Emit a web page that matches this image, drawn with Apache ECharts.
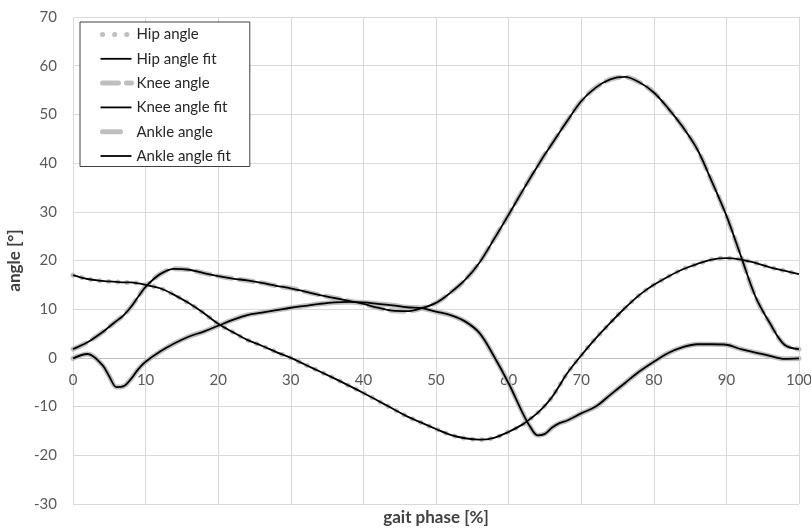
<!DOCTYPE html>
<html>
<head>
<meta charset="utf-8">
<script src="https://cdn.jsdelivr.net/npm/echarts@6/dist/echarts.min.js"></script>
<style>
  html, body { margin: 0; padding: 0; background: #fff; }
  #chart { width: 811px; height: 528px; }
</style>
</head>
<body>
<div id="chart"></div>
<script>
// Gait phase (% of gait cycle) at which the joint angles are sampled
const phase = [0, 2, 4, 5, 6, 7, 8, 9, 10, 12, 14, 16, 18, 20, 22, 24, 26, 28, 30, 32, 34, 36, 38, 40,
  42, 44, 46, 48, 50, 52, 54, 56, 58, 60, 62, 63, 64, 65, 66, 67, 68, 70, 72, 74, 76, 78, 80,
  82, 84, 86, 88, 90, 92, 94, 96, 98, 100];

// Joint angles in degrees
const hipAngle = [17.0, 16.2, 15.8, 15.7, 15.6, 15.5, 15.5, 15.3, 15.0, 14.3, 12.9, 11.2, 9.2, 7.0, 5.3, 3.7,
  2.5, 1.2, 0.0, -1.4, -2.8, -4.2, -5.7, -7.2, -8.8, -10.4, -12.0, -13.3, -14.6, -15.8, -16.5, -16.8,
  -16.4, -15.2, -13.6, -12.5, -11.3, -9.8, -8.0, -5.7, -3.3, 0.5, 4.0, 7.2, 10.2, 12.9, 15.0,
  16.7, 18.2, 19.3, 20.2, 20.5, 20.2, 19.5, 18.6, 17.9, 17.2];

const kneeAngle = [1.8, 3.2, 5.2, 6.4, 7.6, 8.8, 10.5, 12.6, 14.6, 17.2, 18.3, 18.1, 17.4, 16.8, 16.3, 15.9,
  15.4, 14.8, 14.3, 13.6, 12.9, 12.3, 11.7, 11.1, 10.3, 9.7, 9.6, 10.2, 11.3, 13.4, 16.0, 19.6,
  24.4, 29.4, 34.5, 37.0, 39.4, 41.8, 44.0, 46.3, 48.5, 52.7, 55.5, 57.2, 57.7, 56.6, 54.5,
  51.2, 47.4, 42.8, 36.2, 29.2, 20.9, 12.6, 7.1, 2.7, 1.8];

const ankleAngle = [-0.1, 0.8, -1.4, -3.8, -6.0, -5.8, -4.3, -2.3, -0.8, 1.3, 3.0, 4.4, 5.4, 6.6, 7.8, 8.8,
  9.3, 9.8, 10.3, 10.7, 11.1, 11.4, 11.5, 11.4, 11.1, 10.8, 10.4, 10.2, 9.5, 8.8, 7.5, 5.1,
  0.3, -5.2, -11.5, -14.2, -15.9, -15.6, -14.3, -13.4, -12.9, -11.4, -10.0, -7.6, -5.2, -2.8, -0.8,
  1.0, 2.2, 2.8, 2.8, 2.7, 1.8, 1.1, 0.4, -0.2, -0.1];

const xTicks = { min: 0, max: 100, step: 10 };
const yTicks = { min: -30, max: 70, step: 10 };

const pairs = (ys) => phase.map((x, i) => [x, ys[i]]);

const FONT = 'Lato, "Open Sans", sans-serif';
const GRAY = '#bfbfbf';

// plot box (pixels)
const GRID = { left: 73, right: 12, top: 17, bottom: 24 };
const plotHeight = 528 - GRID.top - GRID.bottom;
// lift the x axis from the bottom edge up to the y = 0 line
const xAxisLift = plotHeight * (0 - yTicks.min) / (yTicks.max - yTicks.min);

function measured(name, ys, dash) {
  return {
    name, type: 'line', data: pairs(ys), symbol: 'none', smooth: 0.35, z: 2,
    lineStyle: { color: GRAY, width: 5, type: dash, cap: 'round', join: 'round' },
    itemStyle: { color: GRAY },
    emphasis: { disabled: true }
  };
}
function fitted(name, ys) {
  return {
    name, type: 'line', data: pairs(ys), symbol: 'none', smooth: 0.35, z: 3,
    lineStyle: { color: '#000', width: 1.8 },
    itemStyle: { color: '#000' },
    emphasis: { disabled: true }
  };
}

const fitKey = { lineStyle: { color: '#000', width: 1.8, type: 'solid' } };

const chart = echarts.init(document.getElementById('chart'), null, { renderer: 'canvas' });
chart.setOption({
  animation: false,
  backgroundColor: '#fff',
  grid: Object.assign({ containLabel: false, outerBoundsMode: 'none' }, GRID),
  xAxis: {
    type: 'value', min: xTicks.min, max: xTicks.max, interval: xTicks.step,
    position: 'bottom', offset: -xAxisLift,
    name: 'gait phase [%]', nameLocation: 'middle', nameGap: 151,
    nameTextStyle: { fontFamily: FONT, fontSize: 17, fontWeight: 'bold', color: '#404040' },
    axisLine: { onZero: false, lineStyle: { color: '#bfbfbf', width: 1 } },
    axisTick: { show: false },
    axisLabel: { margin: 15, fontFamily: FONT, fontSize: 15, color: '#595959' },
    splitLine: { show: true, lineStyle: { color: '#d9d9d9', width: 1 } }
  },
  yAxis: {
    type: 'value', min: yTicks.min, max: yTicks.max, interval: yTicks.step,
    name: 'angle [°]', nameLocation: 'middle', nameGap: 41,
    nameTextStyle: { fontFamily: FONT, fontSize: 17, fontWeight: 'bold', color: '#404040' },
    axisLine: { show: false },
    axisTick: { show: false },
    axisLabel: { margin: 16, fontFamily: FONT, fontSize: 15, color: '#595959' },
    splitLine: { show: true, lineStyle: { color: '#d9d9d9', width: 1 } }
  },
  legend: {
    orient: 'vertical', left: 80, top: 22,
    padding: [5, 19, 3, 18],
    itemWidth: 31, itemHeight: 14, itemGap: 9.3,
    backgroundColor: '#fff', borderColor: '#404040', borderWidth: 1,
    itemStyle: { opacity: 0, borderWidth: 0 },
    textStyle: { fontFamily: FONT, fontSize: 15, color: '#262626' },
    selectedMode: false,
    data: [
      { name: 'Hip angle', lineStyle: { color: GRAY, width: 5, type: [0.1, 12], dashOffset: -2, cap: 'round' } },
      Object.assign({ name: 'Hip angle fit' }, fitKey),
      { name: 'Knee angle', lineStyle: { color: GRAY, width: 5, type: [16, 8], cap: 'round' } },
      Object.assign({ name: 'Knee angle fit' }, fitKey),
      { name: 'Ankle angle', lineStyle: { color: GRAY, width: 5, type: [18, 60], cap: 'round' } },
      Object.assign({ name: 'Ankle angle fit' }, fitKey)
    ]
  },
  series: [
    measured('Hip angle', hipAngle, [0.1, 9]),
    measured('Knee angle', kneeAngle, [14, 8]),
    measured('Ankle angle', ankleAngle, 'solid'),
    fitted('Hip angle fit', hipAngle),
    fitted('Knee angle fit', kneeAngle),
    fitted('Ankle angle fit', ankleAngle)
  ]
});
</script>
</body>
</html>
